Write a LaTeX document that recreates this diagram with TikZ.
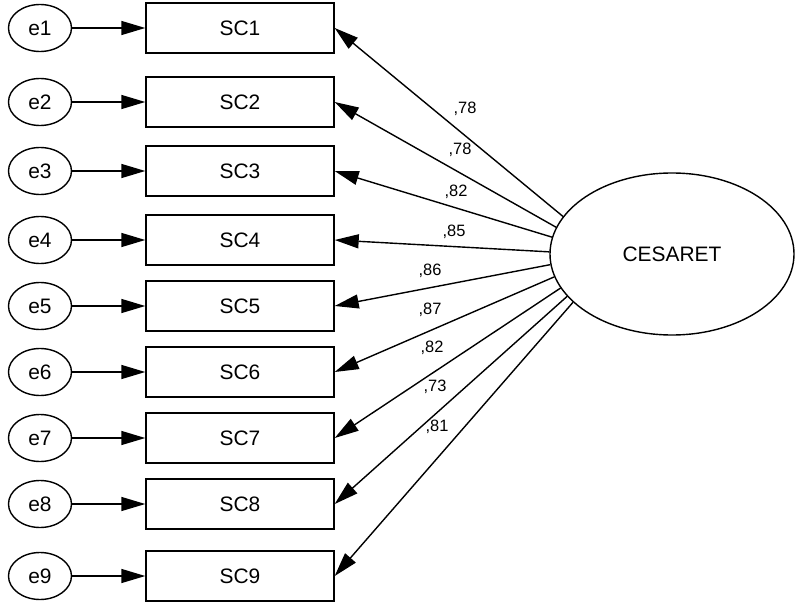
\documentclass[tikz,border=0pt]{standalone}
\usepackage{fontspec}
\setmainfont{Liberation Sans}
\usetikzlibrary{arrows.meta,shapes.geometric}

\begin{document}
\begin{tikzpicture}[x=1bp,y=-1bp,
		lw/.style={line width=1.4bp},
		errnode/.style={draw,lw,ellipse,minimum width=63bp,minimum height=47bp,inner sep=0pt,font=\fontsize{21}{24}\selectfont},
		itembox/.style={draw,lw,rectangle,minimum width=188bp,minimum height=50bp,inner sep=0pt,font=\fontsize{21}{24}\selectfont},
		loadarrow/.style={-{Triangle[length=24bp,width=14bp]},lw},
		coef/.style={font=\fontsize{16.5}{19}\selectfont,inner sep=0pt}]
		\useasboundingbox (0,0) rectangle (796,610);
		
		\foreach \y[count=\i] in {28,102,171,240,306,372,438,504,576}{
			\node[errnode] (e\i) at (40,\y) {e\i};
			\node[itembox] (sc\i) at (240,\y) {SC\i};
			\draw[loadarrow] (e\i) -- (sc\i);
		}
		
		\node[draw,lw,ellipse,minimum width=244bp,minimum height=162bp,inner sep=0pt,font=\fontsize{21}{24}\selectfont] (ces) at (672,254) {CESARET};
		
		\draw[loadarrow] (ces.161) -- (sc1.east);
		\draw[loadarrow] (ces.167) -- (sc2.east);
		\draw[loadarrow] (ces.172.5) -- (sc3.east);
		\draw[loadarrow] (ces.179.5) -- (sc4.east);
		\draw[loadarrow] (ces.185) -- (sc5.east);
		\draw[loadarrow] (ces.191) -- (sc6.east);
		\draw[loadarrow] (ces.197) -- (sc7.east);
		\draw[loadarrow] (ces.202) -- (sc8.east);
		\draw[loadarrow] (ces.206) -- (sc9.east);
		
		\node[coef] (l1) at (465,109) {,78};
		\node[coef] (l2) at (460,150) {,78};
		\node[coef] (l3) at (456,192) {,82};
		\node[coef] (l4) at (454,232) {,85};
		\node[coef] (l5) at (430,271) {,86};
		\node[coef] (l6) at (430,310) {,87};
		\node[coef] (l7) at (432,348) {,82};
		\node[coef] (l8) at (435,387) {,73};
		\node[coef] (l9) at (437,427) {,81};
	\end{tikzpicture}
\end{document}
